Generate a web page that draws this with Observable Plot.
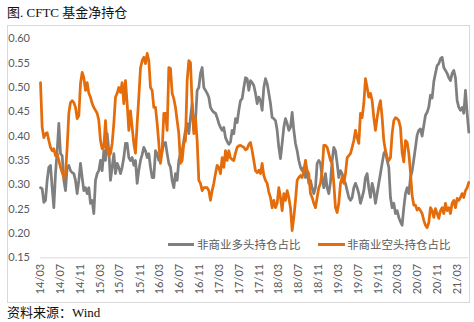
<!DOCTYPE html>
<html><head><meta charset="utf-8">
<script src="https://cdn.jsdelivr.net/npm/d3@7"></script>
<script src="https://cdn.jsdelivr.net/npm/@observablehq/plot@0.6"></script>
<style>
html,body{margin:0;padding:0;background:#fff}
body{width:474px;height:322px;position:relative;overflow:hidden}
#title{position:absolute;left:7px;top:3px;font-size:13px;line-height:20px;font-family:"Liberation Serif","Noto Sans CJK SC",serif;color:#111;white-space:nowrap}
#frame{position:absolute;left:7px;top:25px;width:463px;height:278px;box-sizing:border-box;border:1px solid #d9d9d9}
#chart{position:absolute;left:7px;top:25px}
#caption{position:absolute;left:7px;top:304px;font-size:13px;line-height:18px;font-family:"Liberation Serif","Noto Sans CJK SC",serif;color:#111;white-space:nowrap}
.lg-line{position:absolute;height:3px;top:242.5px}
.lg-text{position:absolute;top:236px;font-size:11.5px;line-height:16px;font-family:"Noto Sans CJK SC",sans-serif;color:#595959;white-space:nowrap}
</style>
</head><body>
<div id="title">图. CFTC 基金净持仓</div>
<div id="frame"></div>
<div id="chart"></div>
<div class="lg-line" style="left:168px;width:26px;background:#7f7f7f"></div>
<div class="lg-text" style="left:197px">非商业多头持仓占比</div>
<div class="lg-line" style="left:318px;width:27px;background:#e46c0a"></div>
<div class="lg-text" style="left:347px">非商业空头持仓占比</div>
<div id="caption">资料来源：Wind</div>
<script>
// Series names
const seriesNames = ["非商业多头持仓占比", "非商业空头持仓占比"];

// 非商业多头持仓占比 (gray), sampled about every 10 days from 2014-03
const longShare = [
0.294,0.292,0.264,0.268,0.309,0.336,0.340,0.294,0.253,0.323,
0.370,0.426,0.364,0.360,0.309,0.288,0.336,0.340,0.329,0.325,
0.323,0.309,0.282,0.309,0.344,0.315,0.288,0.294,0.282,0.294,
0.262,0.268,0.241,0.309,0.323,0.329,0.350,0.329,0.370,0.350,
0.405,0.370,0.309,0.336,0.364,0.323,0.344,0.336,0.323,0.336,
0.356,0.385,0.385,0.356,0.350,0.356,0.340,0.350,0.303,0.330,
0.350,0.362,0.377,0.370,0.356,0.364,0.336,0.315,0.315,0.370,
0.364,0.350,0.356,0.370,0.385,0.387,0.364,0.344,0.336,0.309,
0.294,0.323,0.309,0.350,0.364,0.370,0.391,0.412,0.426,0.405,
0.438,0.467,0.412,0.432,0.494,0.500,0.529,0.541,0.500,0.494,
0.488,0.480,0.459,0.453,0.449,0.447,0.438,0.426,0.418,0.412,
0.418,0.397,0.389,0.383,0.388,0.412,0.405,0.436,0.428,0.453,
0.473,0.477,0.500,0.520,0.518,0.494,0.514,0.510,0.504,0.488,
0.467,0.480,0.473,0.453,0.500,0.518,0.508,0.488,0.467,0.438,
0.436,0.432,0.412,0.377,0.354,0.385,0.418,0.436,0.426,0.412,
0.418,0.449,0.412,0.385,0.370,0.350,0.336,0.329,0.336,0.315,
0.329,0.303,0.309,0.294,0.282,0.294,0.344,0.350,0.344,0.315,
0.294,0.323,0.294,0.282,0.305,0.350,0.377,0.370,0.344,0.315,
0.329,0.323,0.309,0.303,0.288,0.274,0.268,0.274,0.294,0.303,
0.294,0.282,0.262,0.274,0.288,0.315,0.323,0.294,0.274,0.303,
0.288,0.262,0.282,0.303,0.323,0.344,0.364,0.370,0.350,0.336,
0.274,0.253,0.262,0.241,0.247,0.233,0.224,0.217,0.253,0.282,
0.294,0.282,0.315,0.328,0.352,0.377,0.402,0.412,0.415,0.400,
0.422,0.443,0.449,0.460,0.484,0.478,0.512,0.529,0.545,0.549,
0.559,0.562,0.541,0.535,0.529,0.520,0.514,0.529,0.535,0.520,
0.473,0.459,0.453,0.459,0.447,0.494,0.447,0.408
];

// 非商业空头持仓占比 (orange)
const shortShare = [
0.510,0.418,0.397,0.405,0.407,0.391,0.377,0.370,0.374,0.360,
0.364,0.350,0.336,0.325,0.315,0.323,0.377,0.447,0.469,0.473,
0.469,0.459,0.436,0.442,0.508,0.531,0.520,0.494,0.510,0.488,
0.480,0.467,0.459,0.453,0.447,0.432,0.391,0.374,0.377,0.432,
0.377,0.360,0.364,0.385,0.426,0.480,0.488,0.500,0.490,0.510,
0.467,0.514,0.467,0.412,0.452,0.418,0.385,0.365,0.426,0.480,
0.540,0.555,0.562,0.549,0.570,0.555,0.500,0.494,0.459,0.459,
0.426,0.385,0.344,0.370,0.447,0.447,0.412,0.541,0.539,0.488,
0.477,0.459,0.432,0.405,0.344,0.350,0.385,0.391,0.514,0.555,
0.551,0.467,0.405,0.438,0.391,0.309,0.303,0.288,0.294,0.294,
0.294,0.288,0.268,0.288,0.303,0.323,0.340,0.336,0.323,0.356,
0.336,0.370,0.350,0.370,0.355,0.352,0.350,0.365,0.377,0.380,
0.381,0.379,0.377,0.372,0.374,0.383,0.387,0.370,0.350,0.329,
0.325,0.330,0.323,0.344,0.319,0.309,0.303,0.285,0.274,0.253,
0.268,0.253,0.262,0.294,0.274,0.247,0.282,0.268,0.288,0.274,
0.253,0.206,0.233,0.268,0.309,0.315,0.319,0.315,0.329,0.350,
0.329,0.323,0.282,0.274,0.262,0.253,0.274,0.294,0.303,0.329,
0.381,0.381,0.377,0.364,0.350,0.344,0.303,0.253,0.243,0.262,
0.303,0.315,0.303,0.323,0.356,0.360,0.364,0.377,0.391,0.412,
0.397,0.385,0.447,0.438,0.467,0.518,0.500,0.480,0.488,0.473,
0.438,0.412,0.438,0.459,0.473,0.438,0.391,0.370,0.356,0.350,
0.356,0.405,0.432,0.438,0.436,0.432,0.418,0.366,0.347,0.391,
0.387,0.365,0.326,0.278,0.258,0.258,0.248,0.252,0.247,0.241,
0.227,0.217,0.212,0.222,0.253,0.247,0.233,0.251,0.241,0.231,
0.247,0.253,0.241,0.262,0.247,0.253,0.241,0.262,0.268,0.253,
0.272,0.268,0.274,0.282,0.274,0.288,0.294,0.305
];

// x tick labels (yy/mm)
const tickLabels = ["14/03","14/07","14/11","15/03","15/07","15/11","16/03","16/07","16/11","17/03","17/07","17/11","18/03","18/07","18/11","19/03","19/07","19/11","20/03","20/07","20/11","21/03"];
// y tick labels
const yTicks = [0.15,0.20,0.25,0.30,0.35,0.40,0.45,0.50,0.55,0.60];

// Observation dates: regular spacing starting 2014-03-01
const START = Date.UTC(2014, 2, 1);
const STEP = 10.22 * 86400000;
const dates = longShare.map((_, i) => new Date(START + i * STEP));

const data = [];
longShare.forEach((v, i) => data.push({date: dates[i], value: v, series: seriesNames[0]}));
shortShare.forEach((v, i) => data.push({date: dates[i], value: v, series: seriesNames[1]}));

const tickDates = tickLabels.map(s => {
  const [yy, mm] = s.split("/").map(Number);
  return new Date(Date.UTC(2000 + yy, mm - 1, 1));
});
const labelByTime = new Map(tickDates.map((d, i) => [+d, tickLabels[i]]));

const chart = Plot.plot({
  width: 463,
  height: 278,
  marginLeft: 33,
  marginRight: 1.7,
  marginTop: 13.3,
  marginBottom: 45.7,
  style: {fontFamily: "Lato, 'Noto Sans', sans-serif", fontSize: "11px", color: "#595959", background: "transparent", overflow: "visible"},
  x: {type: "utc", domain: [dates[0], dates[dates.length - 1]], ticks: tickDates, tickFormat: d => labelByTime.get(+d), tickSize: 0, tickPadding: 6, tickRotate: -90, label: null},
  y: {domain: [0.15, 0.60], ticks: yTicks, tickFormat: d3.format(".2f"), tickSize: 0, tickPadding: 10.5, label: null},
  color: {domain: seriesNames, range: ["#7f7f7f", "#e46c0a"]},
  marks: [
    Plot.ruleY([0.15], {stroke: "#d9d9d9", strokeWidth: 1}),
    Plot.line(data, {x: "date", y: "value", z: "series", stroke: "series", strokeWidth: 2.75, strokeLinejoin: "round"})
  ]
});
document.getElementById("chart").appendChild(chart);
</script>
</body></html>
